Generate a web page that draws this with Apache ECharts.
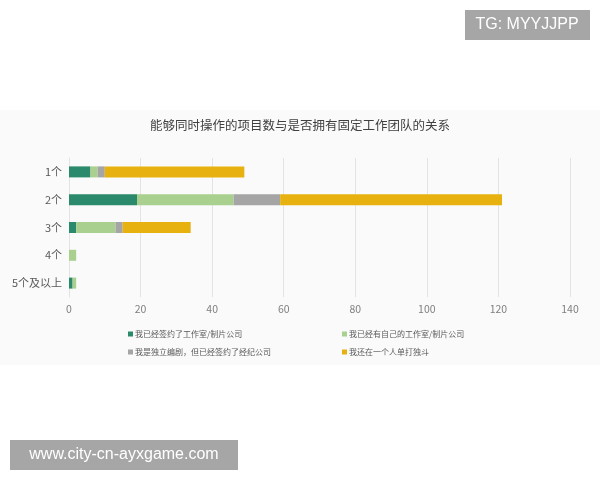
<!DOCTYPE html>
<html><head><meta charset="utf-8">
<script src="https://cdn.jsdelivr.net/npm/echarts@6/dist/echarts.min.js"></script>
<style>html,body{margin:0;padding:0;background:#fff}#c{width:600px;height:480px}</style>
</head><body><div id="c"></div>
<script>
const categories = ['1个','2个','3个','4个','5个及以上'];
const seriesNames = ['我已经签约了工作室/制片公司','我已经有自己的工作室/制片公司','我是独立编剧，但已经签约了经纪公司','我还在一个人单打独斗'];
const signedStudio = [6, 19, 2, 0, 1];
const ownStudio = [2, 27, 11, 2, 1];
const signedAgency = [2, 13, 2, 0, 0];
const alone = [39, 62, 19, 0, 0];
const xTicks = [0, 20, 40, 60, 80, 100, 120, 140];
const colors = ['#2b8a6b', '#a9d08e', '#a5a5a5', '#e7b20f'];

const font = '"Noto Sans CJK SC", sans-serif';
const chart = echarts.init(document.getElementById('c'));
const values = [signedStudio, ownStudio, signedAgency, alone];
const legendPos = [[123, 325], [337, 325], [123, 343], [337, 343]];
chart.setOption({
  backgroundColor: '#ffffff',
  animation: false,
  graphic: [
    {type: 'rect', shape: {x: 0, y: 110, width: 600, height: 255}, style: {fill: '#fafafa'}, z: -10},
    {type: 'rect', shape: {x: 465, y: 10, width: 125, height: 30}, style: {fill: '#a6a6a6'}, z: 100},
    {type: 'text', x: 527, y: 25, style: {text: 'TG: MYYJJPP', fill: '#ffffff', font: '16px "Liberation Sans", Arial, sans-serif', textAlign: 'center', textVerticalAlign: 'middle'}, z: 101},
    {type: 'rect', shape: {x: 10, y: 440, width: 228, height: 30}, style: {fill: '#a6a6a6'}, z: 100},
    {type: 'text', x: 124, y: 455, style: {text: 'www.city-cn-ayxgame.com', fill: '#ffffff', font: '16px "Liberation Sans", Arial, sans-serif', textAlign: 'center', textVerticalAlign: 'middle'}, z: 101}
  ],
  title: {
    text: '能够同时操作的项目数与是否拥有固定工作团队的关系',
    left: 'center', top: 114,
    textStyle: {fontSize: 12.5, fontWeight: 'normal', color: '#404040', fontFamily: font}
  },
  legend: seriesNames.map((n, i) => ({
    data: [n], left: legendPos[i][0], top: legendPos[i][1],
    icon: 'rect', itemWidth: 5, itemHeight: 5, itemGap: 2,
    textStyle: {fontSize: 8, color: '#595959', fontFamily: font, padding: [0, 0, 0, -3]}
  })),
  grid: {left: 69, right: 30, top: 158, bottom: 183, containLabel: false},
  xAxis: {
    type: 'value', min: 0, max: 140, interval: 20,
    axisLine: {show: false}, axisTick: {show: false},
    splitLine: {lineStyle: {color: '#e3e3e3'}},
    axisLabel: {color: '#7f7f7f', fontSize: 10.5, margin: 7, fontFamily: font,
      formatter: v => xTicks.includes(v) ? String(v) : ''}
  },
  yAxis: {
    type: 'category', data: categories, inverse: true,
    axisLine: {show: true, lineStyle: {color: '#e3e3e3'}}, axisTick: {show: false},
    axisLabel: {color: '#595959', fontSize: 11, margin: 7, fontFamily: font}
  },
  series: seriesNames.map((n, i) => ({
    name: n, type: 'bar', stack: 'total', data: values[i],
    barWidth: 11, itemStyle: {color: colors[i]}
  }))
});
</script></body></html>
